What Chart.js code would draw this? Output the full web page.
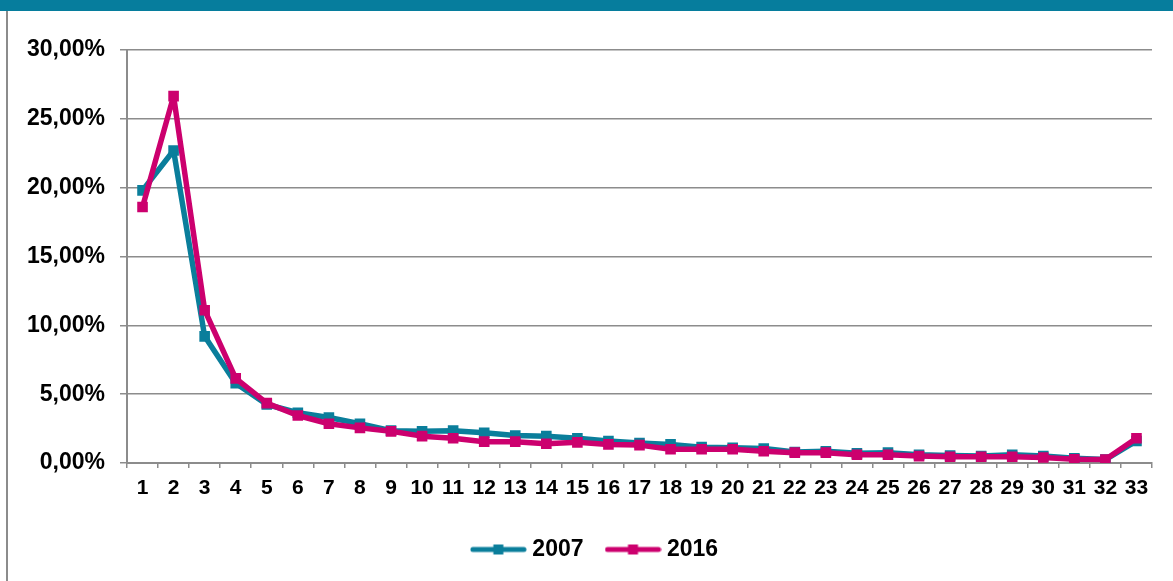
<!DOCTYPE html>
<html>
<head>
<meta charset="utf-8">
<script src="https://cdn.jsdelivr.net/npm/chart.js@4.4.1/dist/chart.umd.min.js"></script>
<style>
  html, body { margin: 0; padding: 0; background: #fff; }
  #wrap { position: relative; width: 1173px; height: 581px; overflow: hidden; }
  #topbar { position: absolute; left: 0; top: 0; width: 1173px; height: 11px; background: #067d9d; }
  #leftline { position: absolute; left: 6px; top: 11px; width: 2px; height: 570px; background: #8c8c8c; }
  #chart { position: absolute; left: 0; top: 0; }
</style>
</head>
<body>
<div id="wrap">
  <canvas id="chart" width="1173" height="581"></canvas>
  <div id="topbar"></div>
  <div id="leftline"></div>
</div>
<script>
// categories 1..33
const categories = ["1","2","3","4","5","6","7","8","9","10","11","12","13","14","15","16","17","18","19","20","21","22","23","24","25","26","27","28","29","30","31","32","33"];

// share in percent
const values2007 = [19.8, 22.7, 9.2, 5.8, 4.25, 3.65, 3.3, 2.85, 2.35, 2.3, 2.35, 2.2, 2.0, 1.95, 1.8, 1.6, 1.45, 1.35, 1.15, 1.1, 1.05, 0.8, 0.85, 0.7, 0.75, 0.6, 0.55, 0.5, 0.6, 0.5, 0.35, 0.25, 1.6];
const values2016 = [18.6, 26.65, 11.1, 6.15, 4.35, 3.45, 2.85, 2.55, 2.3, 1.95, 1.8, 1.55, 1.55, 1.4, 1.5, 1.35, 1.3, 1.0, 1.0, 1.0, 0.85, 0.75, 0.75, 0.6, 0.6, 0.5, 0.45, 0.45, 0.45, 0.4, 0.27, 0.25, 1.8];

const yMin = 0;
const yMax = 30;
const yStep = 5;

const TEAL = "#0a7e9b";
const MAGENTA = "#cc006e";
const FONT = "'Liberation Sans', Arial, sans-serif";

// legend sample: line with a square marker in the middle
function legendSample(color) {
  const c = document.createElement("canvas");
  c.width = 57;
  c.height = 12;
  const g = c.getContext("2d");
  g.strokeStyle = color;
  g.lineWidth = 5;
  g.lineCap = "round";
  g.beginPath();
  g.moveTo(3, 6);
  g.lineTo(54, 6);
  g.stroke();
  g.fillStyle = color;
  g.fillRect(23.5, 1, 10, 10);
  return c;
}

const samples = [legendSample(TEAL), legendSample(MAGENTA)];

function fmtPct(v) {
  return Number(v).toFixed(2).replace(".", ",") + "%";
}

// the original legend sits a bit right of the canvas centre
const legendShift = {
  id: "legendShift",
  afterLayout(chart) {
    if (chart.legend) {
      chart.legend.left += 21;
      chart.legend.right += 21;
    }
  },
};

const ctx = document.getElementById("chart").getContext("2d");

new Chart(ctx, {
  type: "line",
  data: {
    labels: categories,
    datasets: [
      {
        label: "2007",
        data: values2007,
        borderColor: TEAL,
        backgroundColor: TEAL,
        borderWidth: 5.5,
        borderJoinStyle: "round",
        pointStyle: "rect",
        pointRadius: 7.5,
        pointBorderWidth: 0,
        tension: 0,
        order: 2,
      },
      {
        label: "2016",
        data: values2016,
        borderColor: MAGENTA,
        backgroundColor: MAGENTA,
        borderWidth: 5.5,
        borderJoinStyle: "round",
        pointStyle: "rect",
        pointRadius: 7.5,
        pointBorderWidth: 0,
        tension: 0,
        order: 1,
      },
    ],
  },
  plugins: [legendShift],
  options: {
    responsive: false,
    animation: false,
    layout: { padding: { left: 0, right: 21, top: 50, bottom: 10 } },
    plugins: {
      tooltip: { enabled: false },
      legend: {
        display: true,
        position: "bottom",
        labels: {
          usePointStyle: true,
          pointStyleWidth: 45,
          padding: 27,
          color: "#000",
          font: { family: FONT, size: 23, weight: "bold" },
          sort: (a, b) => a.datasetIndex - b.datasetIndex,
          generateLabels: function (chart) {
            const items = Chart.defaults.plugins.legend.labels.generateLabels(chart);
            items.forEach((it) => { it.pointStyle = samples[it.datasetIndex]; });
            return items;
          },
        },
      },
    },
    scales: {
      x: {
        offset: true,
        grid: {
          offset: true,
          drawOnChartArea: false,
          color: "#8c8c8c",
          lineWidth: 1.5,
          tickLength: 5,
        },
        border: { color: "#8c8c8c", width: 2 },
        ticks: {
          color: "#000",
          padding: 8,
          maxRotation: 0,
          autoSkip: false,
          font: { family: FONT, size: 21, weight: "bold" },
        },
        afterFit: function (scale) { scale.height = 48; },
      },
      y: {
        min: yMin,
        max: yMax,
        grid: { color: "#8c8c8c", lineWidth: 1.5, tickLength: 7 },
        border: { color: "#8c8c8c", width: 2 },
        ticks: {
          stepSize: yStep,
          color: "#000",
          padding: 15,
          font: { family: FONT, size: 23, weight: "bold" },
          callback: function (v) { return fmtPct(v); },
        },
        afterFit: function (scale) { scale.width = 127; },
      },
    },
  },
});
</script>
</body>
</html>
